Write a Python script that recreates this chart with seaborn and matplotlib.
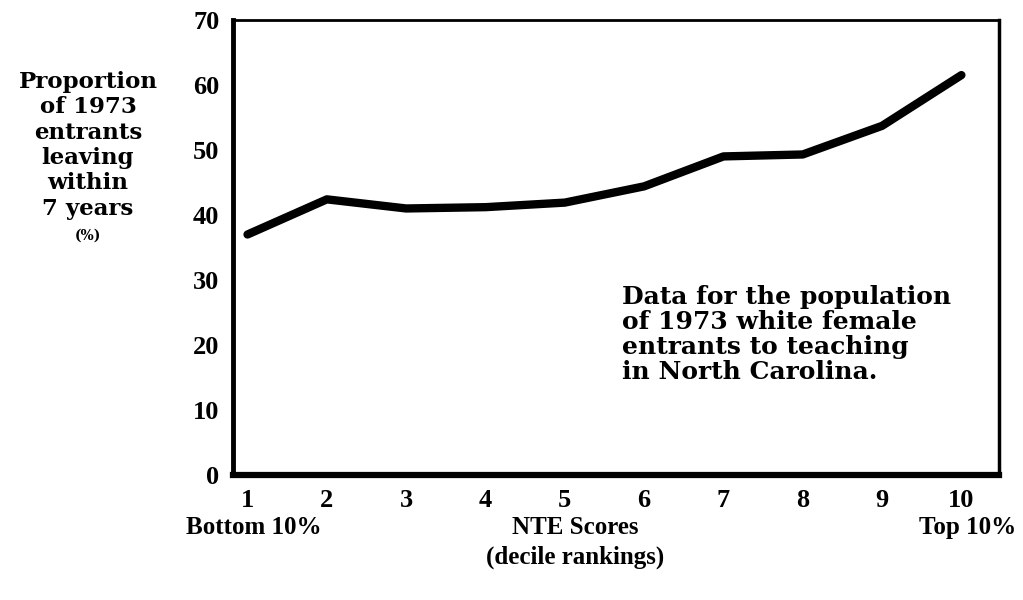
import matplotlib
matplotlib.use("Agg")
import matplotlib.pyplot as plt
import seaborn as sns
import pandas as pd

deciles = [1, 2, 3, 4, 5, 6, 7, 8, 9, 10]
leaving_pct = [37.0, 42.4, 41.0, 41.2, 41.9, 44.4, 49.0, 49.3, 53.7, 61.5]
y_ticks = [0, 10, 20, 30, 40, 50, 60, 70]

sns.set_style("white")
plt.rcParams['font.family'] = ['DejaVu Serif']
plt.rcParams['font.weight'] = 'bold'
plt.rcParams['text.color'] = 'black'
plt.rcParams['xtick.color'] = 'black'
plt.rcParams['ytick.color'] = 'black'

df = pd.DataFrame({"decile": deciles, "pct": leaving_pct})

fig = plt.figure(figsize=(10.23, 6), dpi=100)
ax = fig.add_axes([0.228, 0.208, 0.749, 0.759])
sns.lineplot(data=df, x="decile", y="pct", ax=ax, color="black", linewidth=6,
             solid_capstyle="round", solid_joinstyle="round")

num_font = dict(family="Liberation Serif", fontsize=19, fontweight="bold")

ax.set_xlim(0.82, 10.48)
ax.set_ylim(0, 70)
ax.set_xticks(deciles)
ax.set_yticks(y_ticks)
ax.set_xticklabels([str(d) for d in deciles], **num_font)
ax.set_yticklabels([str(v) for v in y_ticks], **num_font)
ax.tick_params(axis="both", direction="in", length=4, width=1, color="black",
               labelcolor="black")
ax.tick_params(axis="x", pad=10)
ax.tick_params(axis="y", pad=10)
ax.set_xlabel("")
ax.set_ylabel("")

for side, lw in [("left", 3.5), ("bottom", 4.5), ("right", 2.5), ("top", 2.0)]:
    ax.spines[side].set_visible(True)
    ax.spines[side].set_linewidth(lw)
    ax.spines[side].set_color("black")

fig.text(0.086, 0.882, "Proportion\nof 1973\nentrants\nleaving\nwithin\n7 years",
         ha="center", va="top", fontsize=16.5, fontweight="bold", linespacing=1.2,
         color="black")
fig.text(0.086, 0.607, "(%)", ha="center", va="center", fontsize=10,
         fontweight="bold", color="black")

ax.text(0.507, 0.418, "Data for the population\nof 1973 white female\nentrants to teaching\nin North Carolina.",
        transform=ax.transAxes, ha="left", va="top", fontsize=18,
        fontweight="bold", linespacing=1.06, color="black")

lab_font = dict(family="Liberation Serif", fontsize=18, fontweight="bold", color="black")
fig.text(0.182, 0.121, "Bottom 10%", ha="left", va="center", **lab_font)
fig.text(0.562, 0.121, "NTE Scores", ha="center", va="center", **lab_font)
fig.text(0.993, 0.121, "Top 10%", ha="right", va="center", **lab_font)
fig.text(0.562, 0.071, "(decile rankings)", ha="center", va="center", **lab_font)

fig.savefig("out.png", dpi=100)
